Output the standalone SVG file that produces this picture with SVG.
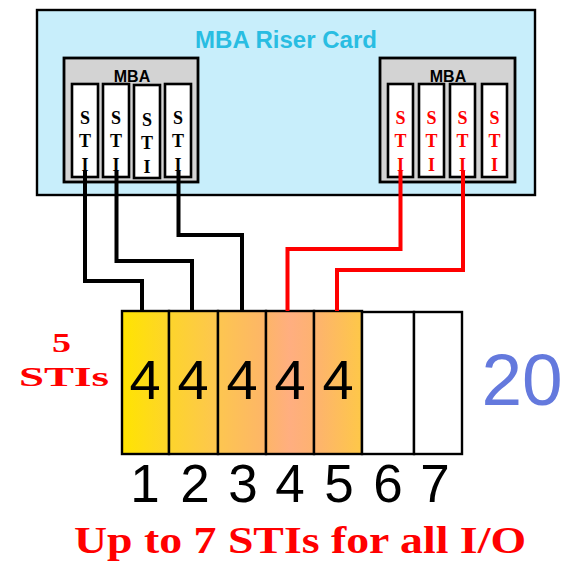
<svg xmlns="http://www.w3.org/2000/svg" width="564" height="564" viewBox="0 0 564 564">
<defs>
<linearGradient id="g" gradientUnits="userSpaceOnUse" x1="122" y1="0" x2="362" y2="0">
<stop offset="0" stop-color="#FFE400"/>
<stop offset="0.2" stop-color="#FDD42C"/>
<stop offset="0.4" stop-color="#FDC650"/>
<stop offset="0.6" stop-color="#FDB568"/>
<stop offset="0.7" stop-color="#FFAE80"/>
<stop offset="0.8" stop-color="#FDB270"/>
<stop offset="1" stop-color="#FEC848"/>
</linearGradient>
<style>
.mba{fill:#D3D3D3;stroke:#000;stroke-width:2.8}
.slot{fill:#fff;stroke:#000;stroke-width:2.6}
.mbat{font-family:"Liberation Sans",Arial,sans-serif;font-weight:bold;font-size:16px;text-anchor:middle;fill:#000}
.sti{font-family:"Liberation Serif","Times New Roman",serif;font-weight:bold;font-size:18px;text-anchor:middle}
.blk{fill:#000}
.red{fill:#FF0000}
.box{stroke:#000;stroke-width:2.4}
.four{font-family:"Liberation Sans",Arial,sans-serif;font-size:56px;text-anchor:middle;fill:#000}
.num{font-family:"Liberation Sans",Arial,sans-serif;font-size:53px;text-anchor:middle;fill:#000}
.wire{fill:none;stroke-width:4;stroke-linejoin:miter}
.bigred{font-family:"Liberation Serif","Times New Roman",serif;font-weight:bold;fill:#FF0000}
.s5{font-size:27px}
.sb{font-size:38px}
</style>
</defs>

<g id="riser">
<rect x="37" y="10" width="498" height="185" fill="#C8EEFB" stroke="#000" stroke-width="2.4"/>
<text x="286" y="48" font-family="'Liberation Sans',Arial,sans-serif" font-weight="bold" font-size="24" text-anchor="middle" fill="#29BDE2">MBA Riser Card</text>
</g>

<g id="mba-left">
<rect class="mba" x="64" y="58" width="134" height="124"/>
<text class="mbat" x="132" y="82">MBA</text>
<rect class="slot" x="72" y="84" width="26" height="93"/>
<rect class="slot" x="103" y="84" width="26" height="93"/>
<rect class="slot" x="134" y="85" width="26" height="93"/>
<rect class="slot" x="165" y="84" width="26" height="93"/>
<g class="sti blk">
<text x="85" y="124">S</text><text x="85" y="147">T</text><text x="85" y="171">I</text>
<text x="116" y="124">S</text><text x="116" y="147">T</text><text x="116" y="171">I</text>
<text x="147" y="126">S</text><text x="147" y="149">T</text><text x="147" y="173">I</text>
<text x="178" y="124">S</text><text x="178" y="147">T</text><text x="178" y="171">I</text>
</g>
</g>

<g id="mba-right">
<rect class="mba" x="380" y="58" width="135" height="124"/>
<text class="mbat" x="448" y="82">MBA</text>
<rect class="slot" x="388" y="84" width="25" height="93"/>
<rect class="slot" x="419" y="84" width="25" height="93"/>
<rect class="slot" x="450" y="84" width="25" height="93"/>
<rect class="slot" x="482" y="84" width="25" height="93"/>
<g class="sti red">
<text x="400.5" y="124">S</text><text x="400.5" y="147">T</text><text x="400.5" y="171">I</text>
<text x="431.5" y="124">S</text><text x="431.5" y="147">T</text><text x="431.5" y="171">I</text>
<text x="462.5" y="124">S</text><text x="462.5" y="147">T</text><text x="462.5" y="171">I</text>
<text x="494.5" y="124">S</text><text x="494.5" y="147">T</text><text x="494.5" y="171">I</text>
</g>
</g>

<g id="io-slots">
<rect class="box" x="122" y="311" width="47" height="143" fill="url(#g)"/>
<rect class="box" x="169" y="311" width="49" height="143" fill="url(#g)"/>
<rect class="box" x="218" y="311" width="48" height="143" fill="url(#g)"/>
<rect class="box" x="266" y="311" width="48" height="143" fill="url(#g)"/>
<rect class="box" x="314" y="311" width="48" height="143" fill="url(#g)"/>
<rect class="box" x="362" y="312" width="52" height="142" fill="#fff"/>
<rect class="box" x="414" y="312" width="48" height="142" fill="#fff"/>
<text class="four" x="145" y="399">4</text>
<text class="four" x="193" y="399">4</text>
<text class="four" x="242" y="399">4</text>
<text class="four" x="290" y="399">4</text>
<text class="four" x="338" y="399">4</text>
</g>

<g id="slot-numbers">
<text class="num" x="145" y="502">1</text>
<text class="num" x="195" y="502">2</text>
<text class="num" x="243" y="502">3</text>
<text class="num" x="290" y="502">4</text>
<text class="num" x="339" y="502">5</text>
<text class="num" x="388" y="502">6</text>
<text class="num" x="435" y="502">7</text>
</g>

<g id="labels">
<text class="bigred s5" x="52" y="352" textLength="19" lengthAdjust="spacingAndGlyphs">5</text>
<text class="bigred s5" x="19" y="386" textLength="90" lengthAdjust="spacingAndGlyphs">STIs</text>
<text x="522" y="405" font-family="'Liberation Sans',Arial,sans-serif" font-size="73" text-anchor="middle" fill="#6479DD">20</text>
<text class="bigred sb" x="74" y="553" textLength="452" lengthAdjust="spacingAndGlyphs">Up to 7 STIs for all I/O</text>
</g>

<g id="connectors">
<polyline class="wire" stroke="#000" points="85,171 85,281 142,281 142,311"/>
<polyline class="wire" stroke="#000" points="116.5,171 116.5,261 192,261 192,311"/>
<polyline class="wire" stroke="#000" points="178.5,171 178.5,235 242,235 242,311"/>
<polyline class="wire" stroke="#FF0000" points="400.5,171 400.5,249 287.5,249 287.5,311"/>
<polyline class="wire" stroke="#FF0000" points="463,171 463,270 337,270 337,311"/>
</g>
</svg>
